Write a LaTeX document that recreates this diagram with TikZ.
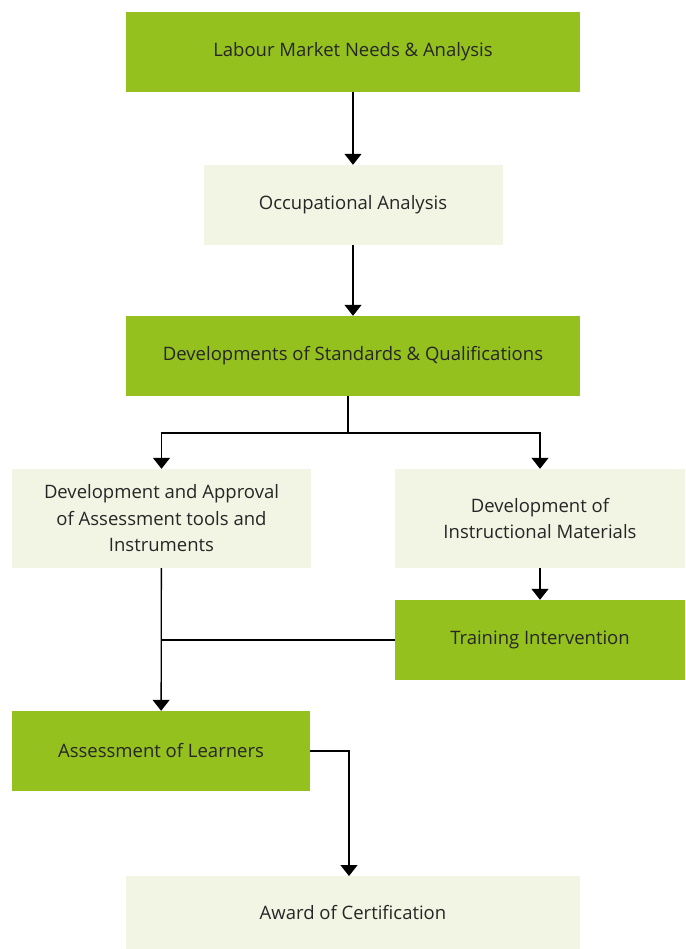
\documentclass[tikz,border=0pt]{standalone}
\usepackage{fontspec}
\setmainfont{Open Sans}
\usepackage{tikz}
\usetikzlibrary{positioning,arrows.meta}
\definecolor{leafgreen}{HTML}{95C11F}
\definecolor{palegreen}{HTML}{F3F5E4}

\begin{document}
\begin{tikzpicture}[x=1pt,y=-1pt,
  every node/.style = {shape=rectangle, align=center, inner sep=0pt,
    font=\fontsize{18.5}{26.5}\selectfont, text=black!85},
  greenbox/.style = {fill=leafgreen},
  palebox/.style = {fill=palegreen},
  arr/.style = {line width=1.3pt, -{Triangle[width=17pt,length=11pt]}},
  plain/.style = {line width=1.3pt}]
    \useasboundingbox (0,0) rectangle (685,949);
    \node[greenbox, minimum width=454, minimum height=80] (LMNA) at (353,52) {Labour Market Needs \& Analysis};
    \node[palebox, minimum width=299, minimum height=80] (OA) at (353,205) {Occupational Analysis};
    \node[greenbox, minimum width=454, minimum height=80] (DSQ) at (353,356) {Developments of Standards \& Qualifications};
    \node[palebox, minimum width=299, minimum height=99] (DAAT) at (161.5,518.5) {Development and Approval\\of Assessment tools and\\Instruments};
    \node[palebox, minimum width=290, minimum height=99] (DIM) at (540,518.5) {Development of\\Instructional Materials};
    \node[greenbox, minimum width=290, minimum height=80] (TI) at (540,640) {Training Intervention};
    \node[greenbox, minimum width=298, minimum height=80] (AOL) at (161,751) {Assessment of Learners};
    \node[palebox, minimum width=454, minimum height=73] (AOC) at (353,912.5) {Award of Certification};
    \coordinate (split) at (348,433);
    \coordinate (drop) at (349,876);
    \draw[arr] (LMNA) -- (OA);
    \draw[arr] (OA) -- (DSQ);
    \draw[plain] (DSQ.south -| split) -- (split);
    \draw[arr] (split) -| (DAAT);
    \draw[arr] (split) -| (DIM);
    \draw[arr] (DIM) -- (TI);
    \draw[arr] (DAAT) -- (AOL);
    \draw[plain] (TI.west) -- (TI.west -| DAAT);
    \draw[arr] (AOL) -| (drop);
\end{tikzpicture}
\end{document}
